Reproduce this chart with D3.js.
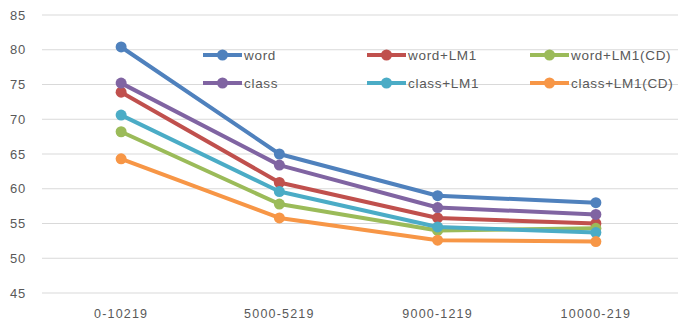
<!DOCTYPE html>
<html><head><meta charset="utf-8">
<script src="https://cdn.jsdelivr.net/npm/d3@7"></script>
<style>body{margin:0;background:#fff}svg{display:block}</style>
</head><body><svg id="c" width="678" height="321"></svg>
<script>
const categories = ["0-10219", "5000-5219", "9000-1219", "10000-219"];
const seriesNames = ["word", "word+LM1", "word+LM1(CD)", "class", "class+LM1", "class+LM1(CD)"];
const word       = [80.4, 65.0, 59.0, 58.0];
const wordLM1    = [73.9, 60.9, 55.8, 55.0];
const wordLM1CD  = [68.2, 57.8, 54.0, 54.3];
const cls        = [75.2, 63.4, 57.3, 56.3];
const clsLM1     = [70.6, 59.6, 54.5, 53.7];
const clsLM1CD   = [64.3, 55.8, 52.6, 52.4];
const yTicks = [45, 50, 55, 60, 65, 70, 75, 80, 85];
const colors = ["#4F81BD", "#C0504D", "#9BBB59", "#8064A2", "#4BACC6", "#F79646"];
const seriesValues = [word, wordLM1, wordLM1CD, cls, clsLM1, clsLM1CD];

const svg = d3.select("#c");
const x = d3.scaleBand().domain(categories).range([42, 675]);
const y = d3.scaleLinear().domain([45, 85]).range([293, 15]);

// gridlines
svg.append("g").selectAll("line").data(yTicks).join("line")
  .attr("x1", 42).attr("x2", 678)
  .attr("y1", d => y(d)).attr("y2", d => y(d))
  .attr("stroke", "#d9d9d9").attr("stroke-width", 1.2);

// y labels
svg.append("g").selectAll("text").data(yTicks).join("text")
  .attr("x", 26).attr("y", d => y(d)).attr("dy", "0.35em")
  .attr("text-anchor", "end")
  .attr("font-family", "Liberation Sans, Arial, sans-serif").attr("font-size", 13)
  .attr("letter-spacing", 0.8)
  .attr("fill", "#595959").text(d => d);

// x labels
svg.append("g").selectAll("text").data(categories).join("text")
  .attr("x", d => x(d) + x.bandwidth() / 2).attr("y", 318)
  .attr("text-anchor", "middle")
  .attr("font-family", "Liberation Sans, Arial, sans-serif").attr("font-size", 12.5)
  .attr("letter-spacing", 1.2)
  .attr("fill", "#595959").text(d => d);

const line = d3.line().x((d, i) => x(categories[i]) + x.bandwidth() / 2).y(d => y(d));

// series
seriesValues.forEach((vals, si) => {
  const g = svg.append("g");
  g.append("path").attr("d", line(vals)).attr("fill", "none")
    .attr("stroke", colors[si]).attr("stroke-width", 4).attr("stroke-linejoin", "round");
  g.selectAll("circle").data(vals).join("circle")
    .attr("cx", (d, i) => x(categories[i]) + x.bandwidth() / 2)
    .attr("cy", d => y(d)).attr("r", 5.5).attr("fill", colors[si]);
});

// legend
const legX = [203, 367, 530];
const legY = [55, 83];
seriesNames.forEach((name, i) => {
  const lx = legX[i % 3], ly = legY[Math.floor(i / 3)];
  const g = svg.append("g");
  g.append("line").attr("x1", lx).attr("x2", lx + 39).attr("y1", ly).attr("y2", ly)
    .attr("stroke", colors[i]).attr("stroke-width", 4);
  g.append("circle").attr("cx", lx + 19.5).attr("cy", ly).attr("r", 5.5).attr("fill", colors[i]);
  g.append("text").attr("x", lx + 41).attr("y", ly).attr("dy", "0.35em")
    .attr("font-family", "Liberation Sans, Arial, sans-serif").attr("font-size", 13.5)
    .attr("letter-spacing", 0.7)
    .attr("fill", "#595959").text(name);
});
</script></body></html>
